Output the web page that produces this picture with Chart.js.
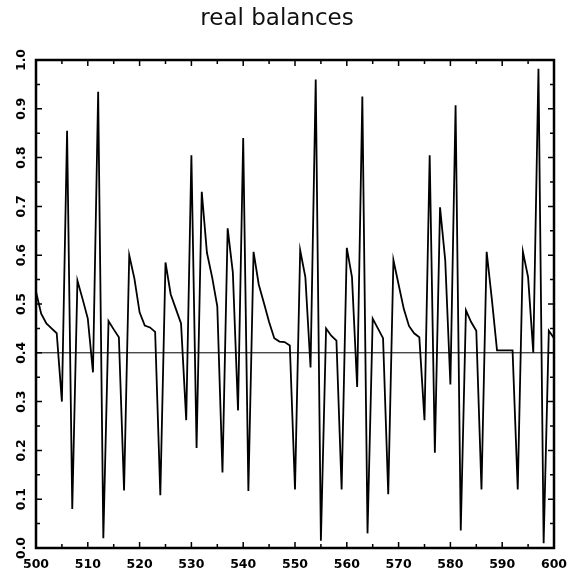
<!DOCTYPE html>
<html>
<head>
<meta charset="utf-8">
<script src="https://cdn.jsdelivr.net/npm/chart.js@4/dist/chart.umd.min.js"></script>
<style>
  html, body { margin: 0; padding: 0; background: #fff; }
  canvas { display: block; }
</style>
</head>
<body>
<canvas id="c" width="579" height="576"></canvas>
<script>
const chartTitle = 'real balances';

const periods = [
  500,501,502,503,504,505,506,507,508,509,
  510,511,512,513,514,515,516,517,518,519,
  520,521,522,523,524,525,526,527,528,529,
  530,531,532,533,534,535,536,537,538,539,
  540,541,542,543,544,545,546,547,548,549,
  550,551,552,553,554,555,556,557,558,559,
  560,561,562,563,564,565,566,567,568,569,
  570,571,572,573,574,575,576,577,578,579,
  580,581,582,583,584,585,586,587,588,589,
  590,591,592,593,594,595,596,597,598,599,
  600
];

const realBalances = [
  0.525,0.480,0.460,0.450,0.440,0.300,0.855,0.080,0.548,0.510,
  0.470,0.360,0.935,0.020,0.465,0.448,0.432,0.118,0.600,0.552,
  0.483,0.456,0.452,0.443,0.108,0.585,0.520,0.490,0.460,0.262,
  0.805,0.205,0.730,0.605,0.555,0.495,0.155,0.655,0.565,0.282,
  0.840,0.117,0.607,0.540,0.502,0.463,0.430,0.423,0.422,0.415,
  0.120,0.610,0.555,0.370,0.960,0.015,0.450,0.435,0.425,0.120,
  0.615,0.555,0.330,0.925,0.030,0.470,0.450,0.430,0.110,0.590,
  0.540,0.490,0.455,0.440,0.432,0.262,0.805,0.195,0.698,0.590,
  0.335,0.907,0.036,0.487,0.463,0.445,0.120,0.607,0.510,0.405,
  0.405,0.405,0.405,0.120,0.607,0.555,0.400,0.982,0.010,0.445,
  0.430
];

const steadyState = 0.40;

const xTickLabels = ['500','510','520','530','540','550','560','570','580','590','600'];
const yTickLabels = ['0.0','0.1','0.2','0.3','0.4','0.5','0.6','0.7','0.8','0.9','1.0'];

const seriesPoints = periods.map((p, i) => ({ x: p, y: realBalances[i] }));
const steadyPoints = [
  { x: periods[0], y: steadyState },
  { x: periods[periods.length - 1], y: steadyState }
];

const tickFont = { family: 'DejaVu Sans', size: 12.5, weight: 'bold' };

const framePlugin = {
  id: 'frame',
  afterDraw(chart) {
    const ctx = chart.ctx;
    const a = chart.chartArea;
    const xs = chart.scales.x, ys = chart.scales.y;
    ctx.save();
    ctx.strokeStyle = '#000';
    ctx.lineWidth = 1.5;
    ctx.beginPath();
    xs.ticks.forEach(t => {
      const px = xs.getPixelForValue(t.value);
      const major = Math.round(t.value) % 10 === 0;
      const len = major ? 6 : 4;
      ctx.moveTo(px, a.bottom); ctx.lineTo(px, a.bottom - len);
      ctx.moveTo(px, a.top); ctx.lineTo(px, a.top + len);
    });
    ys.ticks.forEach(t => {
      const py = ys.getPixelForValue(t.value);
      const major = Math.round(t.value * 100) % 10 === 0;
      const len = major ? 6 : 4;
      ctx.moveTo(a.left, py); ctx.lineTo(a.left + len, py);
      ctx.moveTo(a.right, py); ctx.lineTo(a.right - len, py);
    });
    ctx.stroke();
    ctx.lineWidth = 2.5;
    ctx.strokeRect(a.left, a.top, a.right - a.left, a.bottom - a.top);
    ctx.restore();
  }
};

new Chart(document.getElementById('c'), {
  type: 'line',
  data: {
    datasets: [
      {
        label: 'real balances',
        data: seriesPoints,
        borderColor: '#000',
        borderWidth: 1.8,
        pointRadius: 0,
        tension: 0,
        fill: false
      },
      {
        label: 'steady state',
        data: steadyPoints,
        borderColor: '#000',
        borderWidth: 1,
        pointRadius: 0,
        tension: 0,
        fill: false
      }
    ]
  },
  options: {
    responsive: false,
    animation: false,
    devicePixelRatio: 1,
    layout: { padding: { top: 0, right: 25, bottom: 0, left: 0 } },
    plugins: {
      legend: { display: false },
      tooltip: { enabled: false },
      title: {
        display: true,
        text: chartTitle,
        color: '#111',
        font: { family: 'DejaVu Sans', size: 23, weight: 'normal' },
        padding: { top: 5, bottom: 27.4 }
      }
    },
    scales: {
      x: {
        type: 'linear',
        min: 500,
        max: 600,
        grid: { display: false, drawTicks: false },
        border: { display: false },
        ticks: {
          stepSize: 5,
          autoSkip: false,
          maxRotation: 0,
          minRotation: 0,
          padding: 9,
          color: '#000',
          font: tickFont,
          callback: (v) => {
            const r = Math.round(v);
            return r % 10 === 0 ? xTickLabels[(r - 500) / 10] : '';
          }
        },
        afterFit: (s) => { s.height = 28; }
      },
      y: {
        type: 'linear',
        min: 0,
        max: 1,
        grid: { display: false, drawTicks: false },
        border: { display: false },
        ticks: {
          stepSize: 0.05,
          autoSkip: false,
          minRotation: 90,
          maxRotation: 90,
          crossAlign: 'center',
          padding: 3,
          color: '#000',
          font: tickFont,
          callback: (v) => {
            const r = Math.round(v * 100);
            return r % 10 === 0 ? yTickLabels[r / 10] : '';
          }
        },
        afterFit: (s) => { s.width = 36; }
      }
    }
  },
  plugins: [framePlugin]
});
</script>
</body>
</html>
